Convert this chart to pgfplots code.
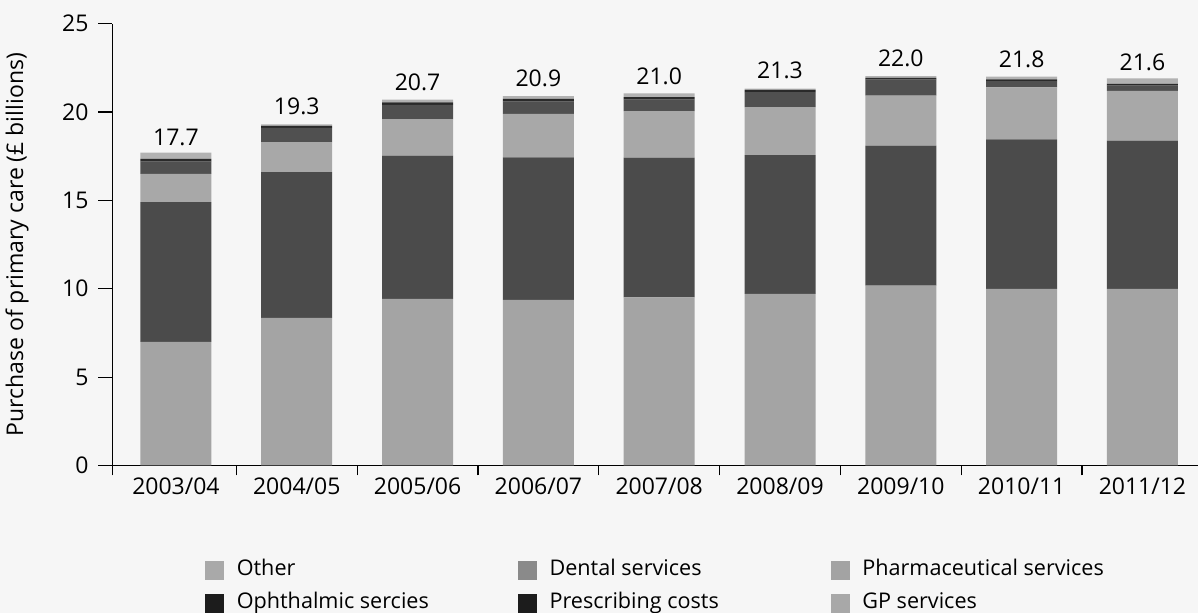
\documentclass[border=0pt]{standalone}
\usepackage{fontspec}
\setmainfont{Open Sans}
\usepackage{pgfplots}
\usepackage{pgfplotstable}
\pgfplotsset{compat=1.18}

% bar fills (as scanned)
\definecolor{cGP}{HTML}{A4A4A4}
\definecolor{cPresc}{HTML}{4B4B4B}
\definecolor{cPharm}{HTML}{A8A8A8}
\definecolor{cDental}{HTML}{505050}
\definecolor{cOphth}{HTML}{2A2A2A}
\definecolor{cOther}{HTML}{B2B2B2}
% legend squares
\definecolor{lOther}{HTML}{A9A9A9}
\definecolor{lDental}{HTML}{8A8A8A}
\definecolor{lPharm}{HTML}{A3A3A3}
\definecolor{lOphth}{HTML}{1C1C1C}
\definecolor{lPresc}{HTML}{1C1C1C}
\definecolor{lGP}{HTML}{A8A8A8}
\definecolor{bg}{HTML}{F6F6F6}

% segments bottom to top, in £ billions
\pgfplotstableread{
x  GP    Presc Pharm Dental Ophth Other total
0  7.00  7.90  1.60  0.70   0.15  0.35  17.7
1  8.35  8.25  1.70  0.80   0.12  0.08  19.3
2  9.43  8.10  2.07  0.80   0.15  0.15  20.7
3  9.37  8.07  2.45  0.70   0.15  0.16  20.9
4  9.52  7.90  2.63  0.65   0.15  0.20  21.0
5  9.71  7.85  2.72  0.85   0.12  0.08  21.3
6  10.18 7.92  2.83  0.90   0.10  0.10  22.0
7  10.00 8.45  2.95  0.35   0.10  0.15  21.8
8  10.00 8.38  2.82  0.30   0.10  0.30  21.6
}\datatable

\pgfplotsset{sq/.style={legend image code/.code={%
  \fill[#1] (0pt,-4.5pt) rectangle (9pt,4.5pt);
  \path (15.5pt,0pt);}}}

\begin{document}
\begin{tikzpicture}[font=\fontsize{11.5}{13}\selectfont]
\fill[bg] (-56.25pt,-73.75pt) rectangle (542.75pt,232.75pt);
\begin{axis}[
    scale only axis,
    width=542.75pt, height=220.9pt,
    ybar stacked,
    bar width=35.5pt,
    xmin=-0.525, xmax=8.46,
    ymin=0, ymax=25,
    axis x line=bottom, axis y line=left,
    axis line style={-, line width=0.6pt},
    tick align=outside,
    tick style={black, line width=0.6pt},
    xtick={0,...,8},
    xticklabels={2003/04,2004/05,2005/06,2006/07,2007/08,2008/09,2009/10,2010/11,2011/12},
    xticklabel style={yshift=4.2pt},
    major x tick style={draw=none},
    minor xtick={-0.525,0.5,1.5,2.5,3.5,4.5,5.5,6.5,7.5},
    minor tick length=5pt,
    ytick={0,5,...,25},
    major tick length=7pt,
    yticklabel style={xshift=-1.5pt},
    /pgf/number format/assume math mode=true,
    ylabel={Purchase of primary care (£ billions)},
    every axis y label/.style={at={(axis description cs:-0.088,0.5)}, rotate=90, anchor=center},
    legend columns=3,
    legend style={at={(axis description cs:0.0852,-0.213)}, anchor=north west,
        draw=none, fill=none, inner sep=0pt, outer sep=0pt,
        column sep=0pt, row sep=6.1pt, cells={anchor=west},
        font=\fontsize{10.8}{13}\selectfont,
        nodes={inner sep=0pt, text height=8pt, text depth=2.4pt}},
]
\addlegendimage{sq=lOther}\addlegendentry{\makebox[140.5pt][l]{Other}}
\addlegendimage{sq=lDental}\addlegendentry{\makebox[140.5pt][l]{Dental services}}
\addlegendimage{sq=lPharm}\addlegendentry{\makebox[140.5pt][l]{Pharmaceutical services}}
\addlegendimage{sq=lOphth}\addlegendentry{\makebox[140.5pt][l]{Ophthalmic sercies}}
\addlegendimage{sq=lPresc}\addlegendentry{\makebox[140.5pt][l]{Prescribing costs}}
\addlegendimage{sq=lGP}\addlegendentry{\makebox[140.5pt][l]{GP services}}

\addplot[fill=cGP, draw=none] table[x=x, y=GP] {\datatable};
\addplot[fill=cPresc, draw=none] table[x=x, y=Presc] {\datatable};
\addplot[fill=cPharm, draw=none] table[x=x, y=Pharm] {\datatable};
\addplot[fill=cDental, draw=none] table[x=x, y=Dental] {\datatable};
\addplot[fill=cOphth, draw=none] table[x=x, y=Ophth] {\datatable};
\addplot[fill=cOther, draw=none,
    nodes near coords, point meta=explicit symbolic,
    every node near coord/.append style={anchor=south, inner sep=0pt, yshift=5pt,
        text=black, font=\fontsize{11.5}{13}\selectfont}]
    table[x=x, y=Other, meta=total] {\datatable};
\end{axis}
\pgfresetboundingbox
\path (-56.25pt,-73.75pt) rectangle (542.75pt,232.75pt);
\end{tikzpicture}
\end{document}
